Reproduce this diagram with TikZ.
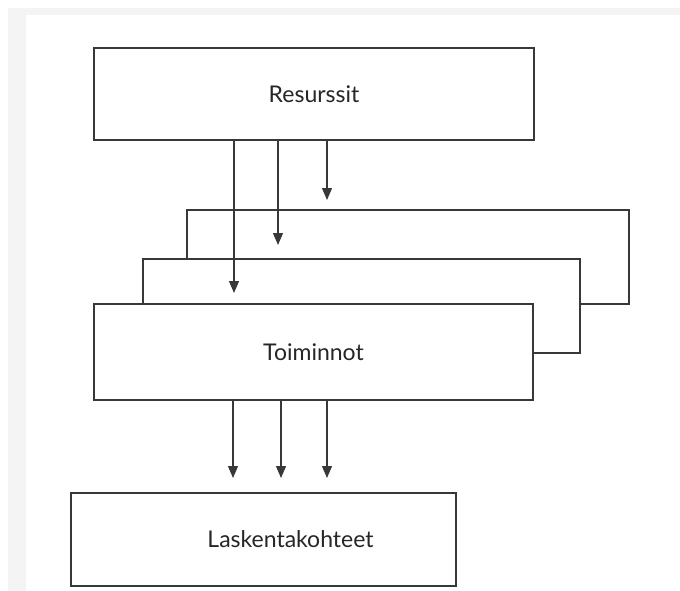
\documentclass[tikz,border=0pt]{standalone}
\usepackage{fontspec}
\setmainfont{Lato}
\usetikzlibrary{arrows.meta}
\definecolor{linec}{HTML}{383838}
\definecolor{textc}{HTML}{262626}
\definecolor{bgg}{HTML}{F4F4F4}
\begin{document}
\begin{tikzpicture}[x=1pt,y=-1pt,
  boxst/.style={draw=linec,line width=1.4pt,fill=white,inner sep=0pt},
  txt/.style={font=\fontsize{23}{26}\selectfont,text=textc,inner sep=0pt},
  arr/.style={draw=linec,line width=1.3pt,-{Triangle[length=12pt,width=10pt]}}]
\useasboundingbox (0,0) rectangle (680,591);
\fill[bgg] (8,8) rectangle (680,591);
\fill[white] (26,15) rectangle (680,591);
\node[boxst,minimum width=442pt,minimum height=94pt] (back3) at (408,257) {};
\node[boxst,minimum width=437pt,minimum height=94pt] (back2) at (361.5,306) {};
\node[boxst,txt,minimum width=439pt,minimum height=96pt] (toim) at (313.5,352) {Toiminnot};
\node[boxst,txt,minimum width=440pt,minimum height=92pt] (res) at (314,94) {Resurssit};
\node[boxst,minimum width=385pt,minimum height=93pt] (lask) at (263.5,539.5) {};
\node[txt] (laskt) at ([xshift=27pt]lask.center) {Laskentakohteet};
\coordinate (t1) at (327,200);
\coordinate (t2) at (278,245);
\coordinate (t3) at (234,293);
\coordinate (b1) at (233,478);
\coordinate (b2) at (281,478);
\coordinate (b3) at (327,478);
\draw[arr] (res.south -| t1) -- (t1);
\draw[arr] (res.south -| t2) -- (t2);
\draw[arr] (res.south -| t3) -- (t3);
\draw[arr] (toim.south -| b1) -- (b1);
\draw[arr] (toim.south -| b2) -- (b2);
\draw[arr] (toim.south -| b3) -- (b3);
\end{tikzpicture}
\end{document}
